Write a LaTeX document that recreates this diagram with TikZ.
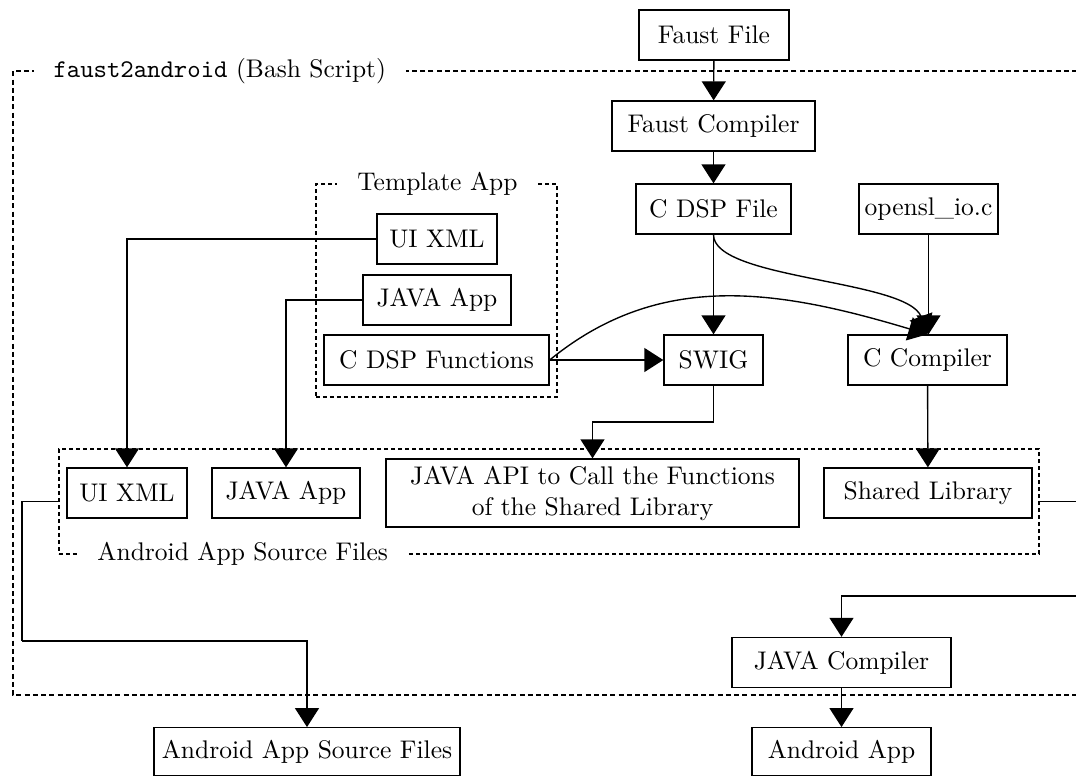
\documentclass[tikz,border=0pt]{standalone}
\usetikzlibrary{arrows.meta}
\begin{document}
\begin{tikzpicture}[x=0.4pt,y=-0.4pt,
  font=\fontsize{10.2}{12.4}\selectfont,
  box/.style={draw,line width=0.55pt,fill=white,inner sep=0pt,minimum height=20pt,align=center},
  group/.style={draw,line width=0.45pt,dash pattern=on 1.6pt off 1.2pt,inner sep=0pt},
  outer/.style={draw,line width=1.1pt,dash pattern=on 2pt off 1.3pt},
  glabel/.style={fill=white,inner xsep=8pt,inner ysep=1pt},
  conn/.style={line width=0.55pt},
  arr/.style={conn,-{Triangle[width=9.6pt,length=7.6pt]}}]
\useasboundingbox (0,0) rectangle (1076,776);
\clip (0,0) rectangle (1076,776);
% groups
\draw[outer] (1110,71) -- (13,71) -- (13,695) -- (1110,695);
\node[glabel,anchor=west] (outerlbl) at (33,71) {\texttt{faust2android} (Bash Script)};
\node[group,minimum width=96.4pt,minimum height=85.2pt] (tmpl) at (436.5,290.5) {};
\node[glabel] (tmpllbl) at (437.5,184) {Template App};
\node[group,minimum width=392pt,minimum height=42pt] (src) at (549,501.5) {};
\node[glabel,anchor=west] (srclbl) at (77,554) {Android App Source Files};
% nodes
\node[box,minimum width=60pt] (ff) at (714,35) {Faust File};
\node[box,minimum width=81.2pt] (fc) at (713.5,126) {Faust Compiler};
\node[box,minimum width=62pt] (cdsp) at (713.5,209) {C DSP File};
\node[box,minimum width=55.6pt] (osl) at (928.5,209) {opensl\_io.c};
\node[box,minimum width=39.6pt] (swig) at (713.5,360) {SWIG};
\node[box,minimum width=63.6pt] (ccomp) at (927.5,360) {C Compiler};
\node[box,minimum width=48pt] (tui) at (437,239) {UI XML};
\node[box,minimum width=59.2pt] (tjava) at (437,300) {JAVA App};
\node[box,minimum width=90pt] (tdsp) at (436.5,360) {C DSP Functions};
\node[box,minimum width=48pt] (aui) at (127,493) {UI XML};
\node[box,minimum width=59.2pt] (ajava) at (286,493) {JAVA App};
\node[box,minimum width=165.2pt,minimum height=27.2pt] (api) at (592.5,493) {JAVA API to Call the Functions\\of the Shared Library};
\node[box,minimum width=83.2pt] (shl) at (928,493) {Shared Library};
\node[box,minimum width=87.6pt] (jc) at (841.5,662.5) {JAVA Compiler};
\node[box,minimum width=122.4pt,minimum height=19pt] (out1) at (307,751.5) {Android App Source Files};
\node[box,minimum width=71.6pt,minimum height=19pt] (out2) at (841.5,751.5) {Android App};
% coordinates
\coordinate (l1) at (22,641);
\coordinate (r1) at (1090,596);
\coordinate (s1) at (713.5,422);
% connectors
\draw[arr] (ff) -- (fc);
\draw[arr] (fc) -- (cdsp);
\draw[arr] (cdsp) -- (swig);
\draw[arr] (osl.south) -- (osl.south |- ccomp.north);
\draw[arr] (cdsp.south) .. controls +(0,45) and +(-20,-55) .. (ccomp.north);
\draw[arr] (tdsp.east) .. controls +(110,-90) and +(-150,-45) .. (ccomp.north);
\draw[arr] (tdsp) -- (swig);
\draw[conn] (swig.south) -- (s1);
\draw[arr] (s1) -| (api.north);
\draw[arr] (ccomp) -- (shl);
\draw[arr] (tui.west) -| (aui.north);
\draw[arr] (tjava.west) -| (ajava.north);
\draw[conn] (src.west) -| (l1);
\draw[arr] (l1) -| (out1.north);
\draw[conn] (src.east) -| (r1);
\draw[arr] (r1) -| (jc.north);
\draw[arr] (jc) -- (out2);
\end{tikzpicture}
\end{document}
